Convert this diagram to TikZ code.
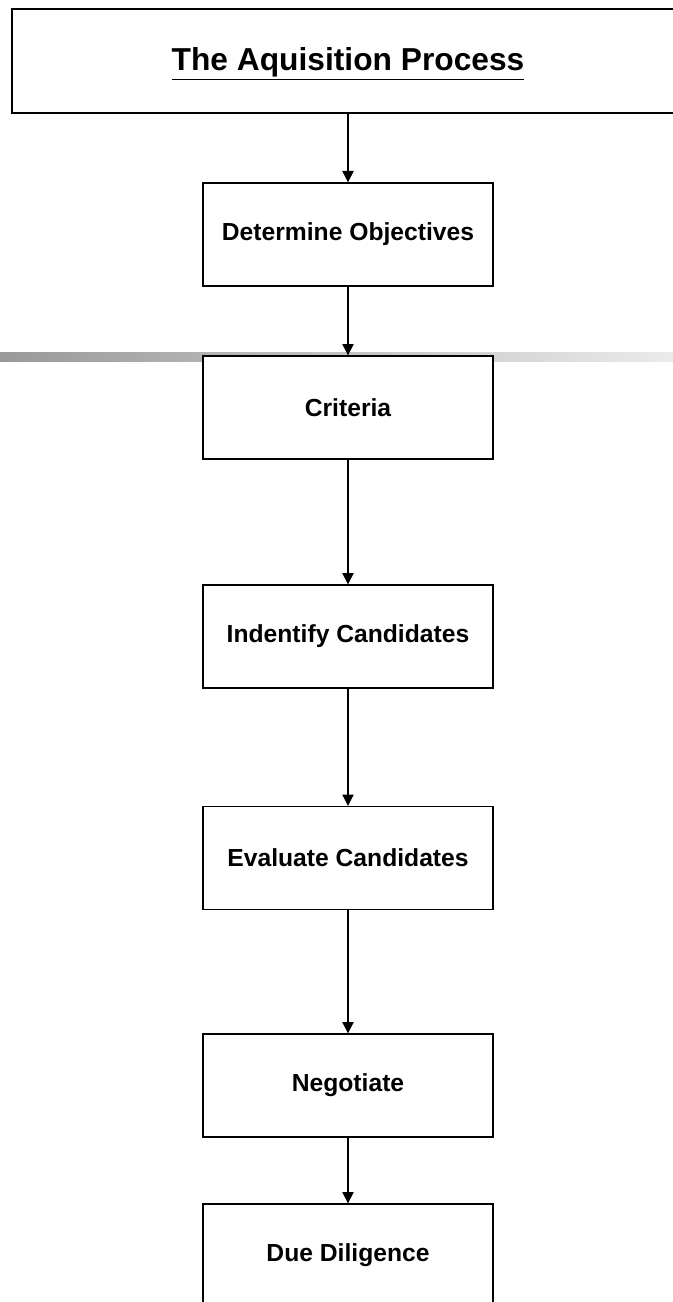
\documentclass[tikz,border=0pt]{standalone}
\usepackage{fontspec}
\setmainfont{Liberation Sans}
\usetikzlibrary{arrows.meta}

\begin{document}
\begin{tikzpicture}[x=0.75pt,y=-0.75pt,
  titlebox/.style={draw, line width=1pt, fill=white, inner sep=0pt,
    minimum width=504pt, minimum height=78pt,
    font=\bfseries\fontsize{23.8}{27}\selectfont},
  stagebox/.style={draw, line width=1pt, fill=white, inner sep=0pt,
    minimum width=217.5pt, minimum height=77.25pt,
    font=\bfseries\fontsize{18.5}{21}\selectfont},
  flow/.style={-{Triangle[length=8.5pt,width=8.5pt]}, line width=0.8pt}]

%---------------------------------------
% Page
%---------------------------------------
\useasboundingbox (0,0) rectangle (673,1302);
\clip (0,0) rectangle (673,1302);

\def\xc{348}

% grey band behind the criteria box
\shade[left color=black!40, right color=black!8] (0,352) rectangle (673,361);

%---------------------------------------
% Stages
%---------------------------------------
\node[titlebox] (process) at (\xc,61) {\raisebox{-7.5pt}[0pt][0pt]{\underline{The Aquisition Process}}};

\node[stagebox] (objectives) at (\xc,234.5)  {Determine Objectives};
\node[stagebox] (criteria)   at (\xc,407.5)  {Criteria};
\node[stagebox] (identify)   at (\xc,636.5)  {Indentify Candidates};
\node[stagebox] (evaluate)   at (\xc,858)    {Evaluate Candidates};
\node[stagebox] (negotiate)  at (\xc,1085.5) {Negotiate};
\node[stagebox] (diligence)  at (\xc,1255.5) {Due Diligence};

%---------------------------------------
% Flow
%---------------------------------------
\draw[flow] (process)    -- (objectives);
\draw[flow] (objectives) -- (criteria);
\draw[flow] (criteria)   -- (identify);
\draw[flow] (identify)   -- (evaluate);
\draw[flow] (evaluate)   -- (negotiate);
\draw[flow] (negotiate)  -- (diligence);

\end{tikzpicture}
\end{document}
